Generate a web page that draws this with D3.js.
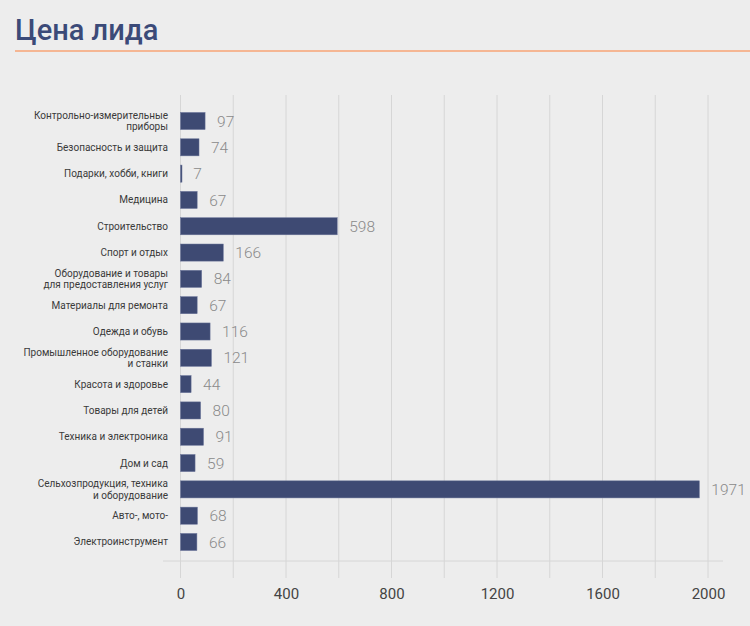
<!DOCTYPE html>
<html><head><meta charset="utf-8">
<script src="https://cdn.jsdelivr.net/npm/d3@7"></script>
<style>
html,body{margin:0;padding:0;background:#ededed;}
svg{display:block;font-family:Roboto,"Noto Sans",sans-serif;}
</style></head>
<body><svg id="c" width="750" height="626"></svg>
<script>
const title = "Цена лида";
const categories = [
  ["Контрольно-измерительные","приборы"],
  ["Безопасность и защита"],
  ["Подарки, хобби, книги"],
  ["Медицина"],
  ["Строительство"],
  ["Спорт и отдых"],
  ["Оборудование и товары","для предоставления услуг"],
  ["Материалы для ремонта"],
  ["Одежда и обувь"],
  ["Промышленное оборудование","и станки"],
  ["Красота и здоровье"],
  ["Товары для детей"],
  ["Техника и электроника"],
  ["Дом и сад"],
  ["Сельхозпродукция, техника","и оборудование"],
  ["Авто-, мото-"],
  ["Электроинструмент"]
];
const values = [97,74,7,67,598,166,84,67,116,121,44,80,91,59,1971,68,66];
const ticks = [0,400,800,1200,1600,2000];
const gridTicks = [0,200,400,600,800,1000,1200,1400,1600,1800,2000];

const svg = d3.select("#c");
svg.append("rect").attr("width",750).attr("height",626).attr("fill","#ededed");

svg.append("text").attr("x",15).attr("y",40).text(title)
  .attr("font-size",29).attr("font-weight",500).attr("fill","#3b4a78");
svg.append("line").attr("x1",15).attr("x2",750).attr("y1",51).attr("y2",51)
  .attr("stroke","#f7a374").attr("stroke-width",1.5);

const x = d3.scaleLinear().domain([0,2000]).range([180.5,708]);
const y = d3.scaleBand().domain(d3.range(categories.length))
  .range([107.85,555.15]).paddingInner(0.35).paddingOuter(0.175);

// grid
svg.append("g").selectAll("line").data(gridTicks).join("line")
  .attr("x1",d=>x(d)).attr("x2",d=>x(d)).attr("y1",95).attr("y2",578)
  .attr("stroke","#d6d6d6").attr("stroke-width",1);
svg.append("line").attr("x1",163).attr("x2",723).attr("y1",561).attr("y2",561)
  .attr("stroke","#d6d6d6");

// axis labels
const ax = svg.append("g").attr("transform","translate(0,578)")
  .call(d3.axisBottom(x).tickValues(ticks).tickSize(0).tickPadding(10).tickFormat(d3.format("d")));
ax.select(".domain").remove();
ax.selectAll("text").attr("font-size",15).attr("fill","#444").attr("font-family","Roboto, sans-serif");

// bars
svg.append("g").selectAll("rect").data(values).join("rect")
  .attr("x",x(0)).attr("y",(d,i)=>y(i)).attr("height",y.bandwidth())
  .attr("width",d=>Math.max(1.5, x(d)-x(0)-1)).attr("fill","#3e4a73")
  .attr("stroke","#6b7599").attr("stroke-width",0.5);

// values
svg.append("g").selectAll("text").data(values).join("text")
  .attr("x",d=>x(d)+11).attr("y",(d,i)=>y(i)+y.bandwidth()/2)
  .attr("dy","0.36em").attr("font-size",15.5).attr("font-weight",300)
  .attr("fill","#8a8a8a").text(d=>d);

// category labels
const lg = svg.append("g").selectAll("text").data(categories).join("text")
  .attr("x",168).attr("y",(d,i)=>y(i)+y.bandwidth()/2)
  .attr("text-anchor","end").attr("font-size",10).attr("fill","#3a3a3a");
lg.each(function(d){
  const t = d3.select(this);
  const n = d.length;
  d.forEach((s,k)=>{
    t.append("tspan").attr("x",168)
      .attr("dy", k===0 ? ((-(n-1)/2*1.15)+0.35)+"em" : "1.15em").text(s);
  });
});
</script></body></html>
